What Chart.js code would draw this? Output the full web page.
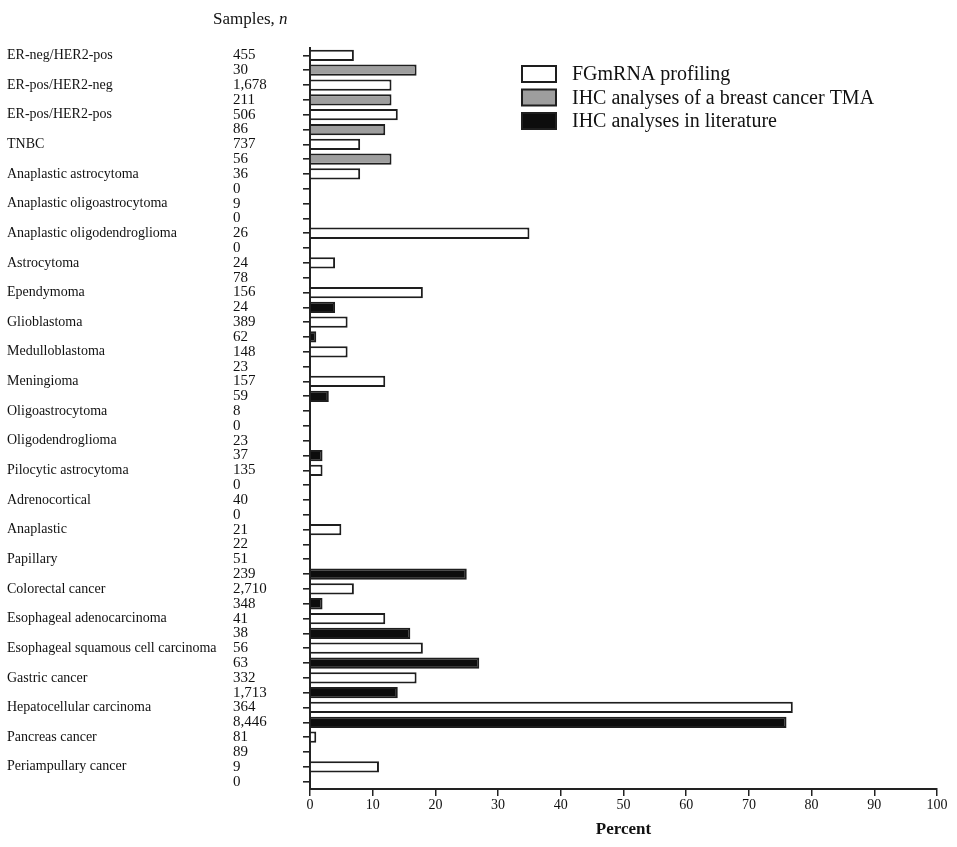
<!DOCTYPE html>
<html>
<head>
<meta charset="utf-8">
<title>HER2 amplification: FGmRNA profiling vs IHC</title>
<script src="https://cdn.jsdelivr.net/npm/chart.js@4.4.1/dist/chart.umd.min.js"></script>
<style>
  html, body { margin: 0; padding: 0; background: #fff; }
  #wrap { width: 957px; height: 847px; }
</style>
</head>
<body>
<div id="wrap"><canvas id="chart" width="957" height="847"></canvas></div>
<script>
const categories = [
  'ER-neg/HER2-pos', 'ER-pos/HER2-neg', 'ER-pos/HER2-pos', 'TNBC',
  'Anaplastic astrocytoma', 'Anaplastic oligoastrocytoma', 'Anaplastic oligodendroglioma',
  'Astrocytoma', 'Ependymoma', 'Glioblastoma', 'Medulloblastoma', 'Meningioma',
  'Oligoastrocytoma', 'Oligodendroglioma', 'Pilocytic astrocytoma', 'Adrenocortical',
  'Anaplastic', 'Papillary', 'Colorectal cancer', 'Esophageal adenocarcinoma',
  'Esophageal squamous cell carcinoma', 'Gastric cancer', 'Hepatocellular carcinoma',
  'Pancreas cancer', 'Periampullary cancer'
];

// sample counts: first row = FGmRNA, second row = IHC
const samplesFgm = ['455', '1,678', '506', '737', '36', '9', '26', '24', '156', '389', '148', '157',
  '8', '23', '135', '40', '21', '51', '2,710', '41', '56', '332', '364', '81', '9'];
const samplesIhc = ['30', '211', '86', '56', '0', '0', '0', '78', '24', '62', '23', '59',
  '0', '37', '0', '0', '22', '239', '348', '38', '63', '1,713', '8,446', '89', '0'];

// percent positive
const pctFgm = [7, 13, 14, 8, 8, 0, 35, 4, 18, 6, 6, 12, 0, 0, 2, 0, 5, 0, 7, 12, 18, 17, 77, 1, 11];
const pctTma = [17, 13, 12, 13, null, null, null, null, null, null, null, null, null, null, null,
  null, null, null, null, null, null, null, null, null, null];
const pctLit = [null, null, null, null, 0, 0, 0, 0, 4, 1, 0, 3, 0, 2, 0, 0, 0, 25, 2, 16, 27, 14, 76, 0, 0];

const xTickValues = [0, 10, 20, 30, 40, 50, 60, 70, 80, 90, 100];

const serif = "'Liberation Serif', 'Times New Roman', serif";
const ink = '#111';

// two rows per category
const rowNames = [];
const rowSamples = [];
const fgmRows = [];
const tmaRows = [];
const litRows = [];
categories.forEach((c, i) => {
  rowNames.push(c, '');
  rowSamples.push(samplesFgm[i], samplesIhc[i]);
  fgmRows.push(pctFgm[i], null);
  tmaRows.push(null, pctTma[i]);
  litRows.push(null, pctLit[i]);
});

const legendBox = {
  id: 'legendBox',
  afterDraw(chart) {
    const ctx = chart.ctx;
    const x0 = chart.chartArea.left + 212;
    const y0 = chart.chartArea.top + 26;
    ctx.save();
    ctx.font = '20px ' + serif;
    ctx.textBaseline = 'middle';
    chart.data.datasets.forEach((ds, i) => {
      const y = y0 + i * 23.5;
      ctx.fillStyle = ds.backgroundColor;
      ctx.fillRect(x0, y - 8, 34, 16);
      ctx.strokeStyle = ds.borderColor;
      ctx.lineWidth = 2;
      ctx.strokeRect(x0, y - 8, 34, 16);
      ctx.fillStyle = ink;
      ctx.fillText(ds.label, x0 + 50, y + 1);
    });
    ctx.restore();
  }
};

const samplesHeader = {
  id: 'samplesHeader',
  afterDraw(chart) {
    const ctx = chart.ctx;
    const sc = chart.scales.y;
    const x = sc.left - 20;
    const y = 20;
    ctx.save();
    ctx.fillStyle = ink;
    ctx.textBaseline = 'middle';
    ctx.font = '17px ' + serif;
    ctx.fillText('Samples, ', x, y);
    const w = ctx.measureText('Samples, ').width;
    ctx.font = 'italic 17px ' + serif;
    ctx.fillText('n', x + w, y);
    ctx.restore();
  }
};

new Chart(document.getElementById('chart').getContext('2d'), {
  type: 'bar',
  data: {
    labels: rowSamples,
    datasets: [
      { label: 'FGmRNA profiling', data: fgmRows, backgroundColor: '#ffffff', borderColor: '#1e1e1e' },
      { label: 'IHC analyses of a breast cancer TMA', data: tmaRows, backgroundColor: '#9e9e9e', borderColor: '#1e1e1e' },
      { label: 'IHC analyses in literature', data: litRows, backgroundColor: '#0d0d0d', borderColor: '#1e1e1e' }
    ]
  },
  options: {
    indexAxis: 'y',
    responsive: false,
    animation: false,
    layout: { padding: { left: 7, top: 48, right: 20, bottom: 0 } },
    datasets: {
      bar: {
        grouped: false,
        barPercentage: 0.76,
        categoryPercentage: 1,
        borderWidth: 2,
        xAxisID: 'x',
        yAxisID: 'y'
      }
    },
    plugins: {
      legend: { display: false },
      tooltip: { enabled: false }
    },
    scales: {
      x: {
        type: 'linear',
        position: 'bottom',
        min: 0,
        max: 100,
        afterBuildTicks: scale => { scale.ticks = xTickValues.map(v => ({ value: v })); },
        afterFit: scale => { scale.height = 58; },
        grid: { drawOnChartArea: false, drawTicks: true, tickLength: 7, color: '#222', lineWidth: 1.5 },
        border: { display: true, color: '#222', width: 2 },
        ticks: { font: { family: serif, size: 14 }, color: ink, padding: 1, maxRotation: 0 },
        title: {
          display: true,
          text: 'Percent',
          font: { family: serif, size: 17, weight: 'bold' },
          color: ink,
          padding: { top: 0, bottom: 7 }
        }
      },
      y: {
        type: 'category',
        position: 'left',
        weight: 0,
        offset: true,
        afterFit: scale => { scale.width = 77; },
        grid: { display: true, offset: false, drawOnChartArea: false, drawTicks: true, tickLength: 7, color: '#222', lineWidth: 1.6 },
        border: { display: true, color: '#222', width: 2 },
        ticks: { autoSkip: false, crossAlign: 'far', font: { family: serif, size: 15 }, color: ink, padding: 4 }
      },
      yName: {
        type: 'category',
        position: 'left',
        weight: 1,
        offset: true,
        labels: rowNames,
        afterFit: scale => { scale.width = 226; },
        grid: { display: false, offset: false },
        border: { display: false },
        ticks: { autoSkip: false, crossAlign: 'far', font: { family: serif, size: 14 }, color: ink, padding: 0 }
      }
    }
  },
  plugins: [legendBox, samplesHeader]
});
</script>
</body>
</html>
